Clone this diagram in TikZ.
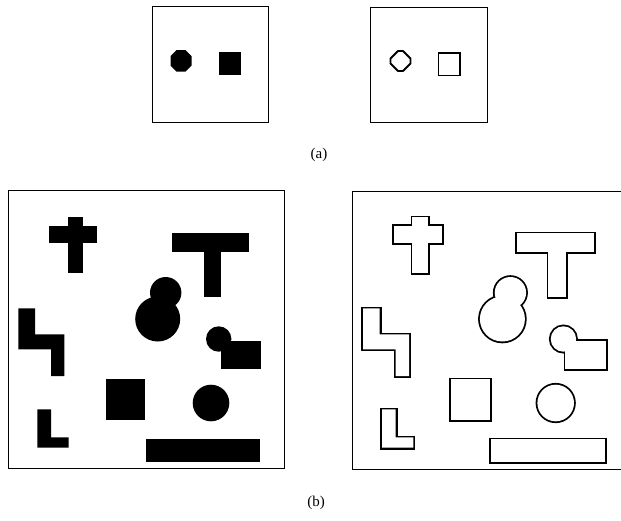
\documentclass[tikz,border=0pt]{standalone}
\usepackage{fontspec}
\setmainfont{Liberation Serif}
\tikzset{
  frame/.style={draw=black, line width=1pt},
  lbl/.style={font=\fontsize{15}{17}\selectfont, inner sep=0pt},
}
\newcommand\myscene[1]{%
  % cross
  \path[#1] (67.7,217.3) rectangle (83.3,273.3);
  \path[#1] (49.3,226) rectangle (97,243.3);
  % T
  \path[#1] (172,233.3) rectangle (249.3,252);
  \path[#1] (203.7,251) rectangle (221.3,296.7);
  % snowman
  \path[#1] (165.7,292.7) circle [radius=15.7pt];
  \path[#1] (157.7,319) circle [radius=22.5pt];
  % snake
  \path[#1] (18.3,308.3) -- (35,308.3) -- (35,334.3) -- (64.3,334.3) -- (64.3,376) -- (51,376) -- (51,349.3) -- (18.3,349.3) -- cycle;
  % circle + rectangle
  \path[#1] (218.7,339) circle [radius=12.7pt];
  \path[#1] (220.7,341) rectangle (261,369);
  % square
  \path[#1] (106,379.3) rectangle (145.3,420.3);
  % circle
  \path[#1] (211,403) circle [radius=18.3pt];
  % L
  \path[#1] (37.3,409.3) -- (51,409.3) -- (51,437.3) -- (68.7,437.3) -- (68.7,447.7) -- (37.3,447.7) -- cycle;
  % bar
  \path[#1] (146,439.3) rectangle (260.3,462);
}
\begin{document}
\begin{tikzpicture}[x=1pt,y=-1pt]
\useasboundingbox (0,0) rectangle (621,520);
\fill[white] (0,0) rectangle (621,520);
% (a) panels
\draw[frame] (152.3,6.5) rectangle (268,122);
\draw[frame] (370.7,7) rectangle (487,122);
\fill (176.5,50) -- (185.5,50) -- (191.5,56) -- (191.5,65.5) -- (185.5,71.5) -- (176.5,71.5) -- (170.5,65.5) -- (170.5,56) -- cycle;
\fill (219,52) rectangle (241,75.3);
\draw[line width=1.8pt, line join=round] (403,51) -- (410.5,58.5) -- (410.5,63.5) -- (403,71) -- (398,71) -- (390.5,63.5) -- (390.5,58.5) -- (398,51) -- cycle;
\draw[line width=1.5pt] (438.5,53) rectangle (460,75.5);
\node[lbl] (la) at (319,155) {(a)};
% (b) left panel
\draw[frame] (8.3,190) rectangle (284,468.7);
\myscene{fill=black}
% (b) right panel
\draw[frame] (622,191.3) -- (352.7,191.3) -- (352.7,469) -- (622,469);
\begin{scope}[xshift=344.7pt]
\myscene{draw=black, line width=3.6pt}
\myscene{fill=white}
\end{scope}
\node[lbl] (lb) at (316,503) {(b)};
\end{tikzpicture}
\end{document}
